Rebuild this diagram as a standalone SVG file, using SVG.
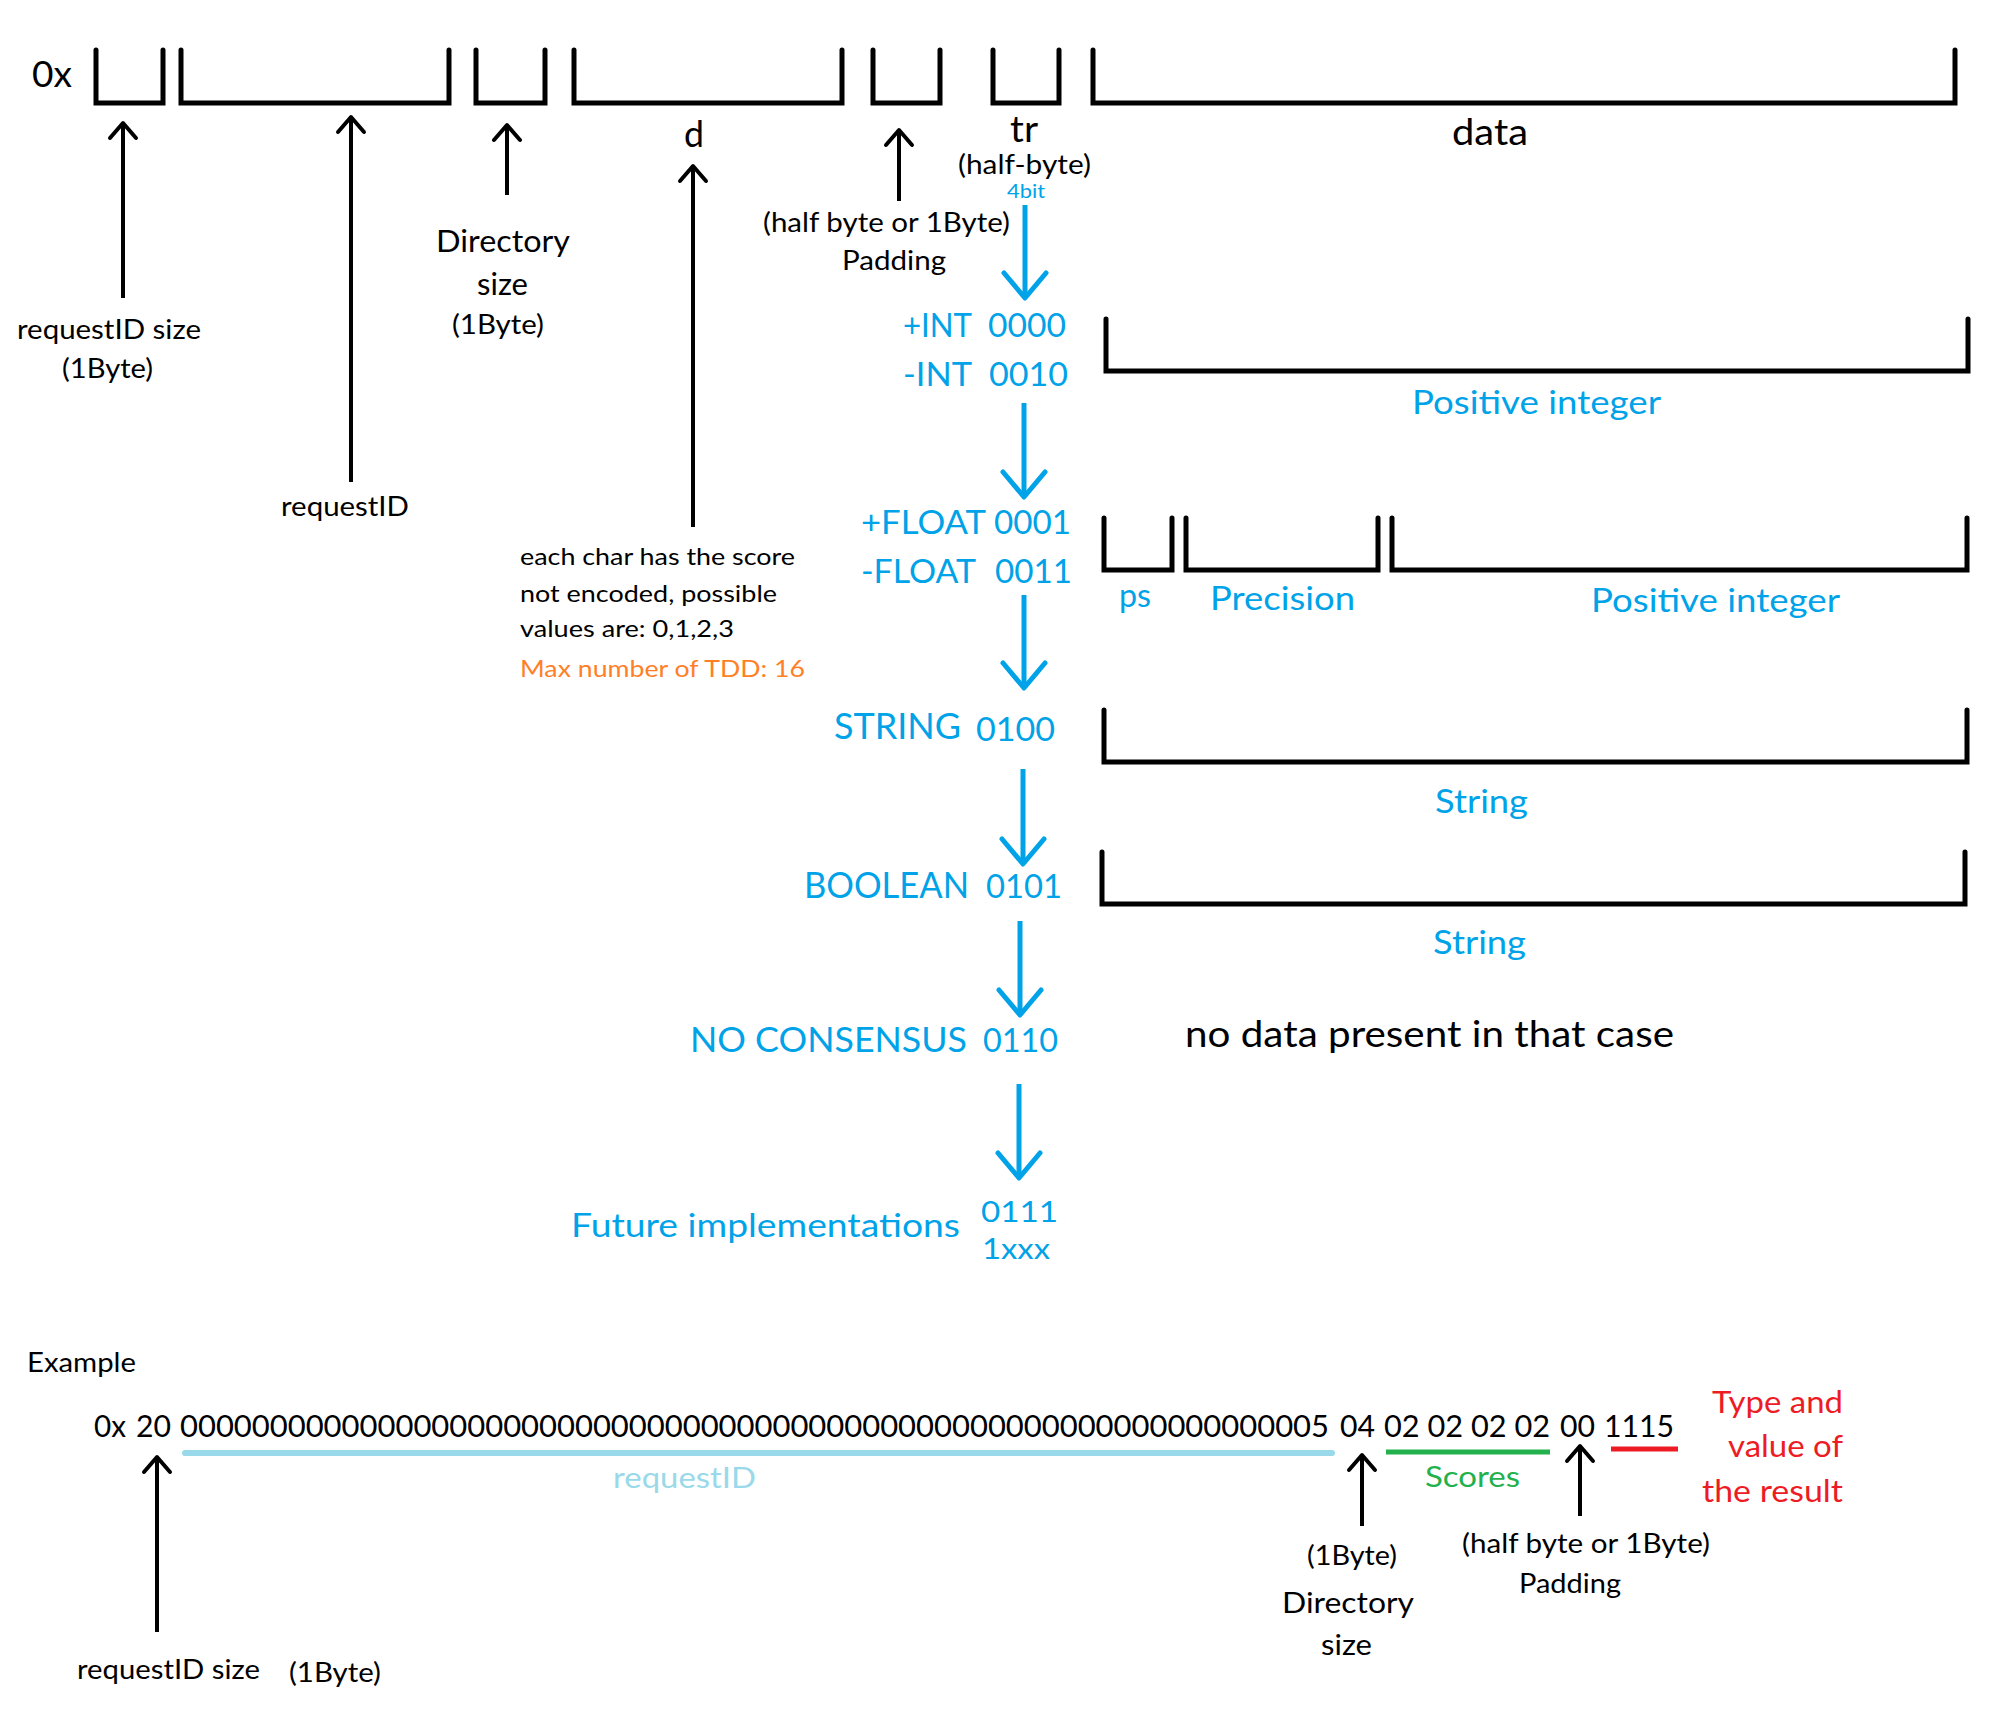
<svg xmlns="http://www.w3.org/2000/svg" width="1992" height="1730" viewBox="0 0 1992 1730">
<style>
text{font-family:Lato,"Liberation Sans",sans-serif;}
.k{fill:#000;}
.b{fill:#00A2E8;}
.o{fill:#FF7F27;}
.r{fill:#ED1C24;}
.g{fill:#22B14C;}
.lb{fill:#99D9EA;}
.br{fill:none;stroke:#000;stroke-width:5;stroke-linejoin:miter;stroke-linecap:round;}
.ka{stroke:#000;stroke-width:4;fill:none;marker-end:url(#hk);}
.ba{stroke:#00A2E8;stroke-width:5;fill:none;marker-end:url(#hb);}
</style>
<defs>
<marker id="hk" markerUnits="userSpaceOnUse" orient="auto" refX="0" refY="0" markerWidth="40" markerHeight="40" viewBox="-20 -20 40 40" overflow="visible">
<path d="M-15,-13 L0,0 L-15,13" fill="none" stroke="#000" stroke-width="4" stroke-linecap="round" stroke-linejoin="round"/>
</marker>
<marker id="hb" markerUnits="userSpaceOnUse" orient="auto" refX="0" refY="0" markerWidth="60" markerHeight="60" viewBox="-30 -30 60 60" overflow="visible">
<path d="M-25,-21 L0,0 L-25,21" fill="none" stroke="#00A2E8" stroke-width="5" stroke-linecap="round" stroke-linejoin="round"/>
</marker>
</defs>
<rect width="1992" height="1730" fill="#fff"/>

<g id="top-layout">
<g id="prefix"><text class="k" x="32" y="87" font-size="37" textLength="40" lengthAdjust="spacingAndGlyphs">0x</text></g>
<g id="field-reqid-size"><path class="br" d="M96,50 V103 H163 V50"/></g>
<g id="field-reqid"><path class="br" d="M181,50 V103 H449 V50"/></g>
<g id="field-dir-size"><path class="br" d="M476,50 V103 H545 V50"/></g>
<g id="field-d"><path class="br" d="M574,50 V103 H842 V50"/>
<text class="k" x="684" y="147" font-size="37" textLength="20" lengthAdjust="spacingAndGlyphs">d</text></g>
<g id="field-padding"><path class="br" d="M873,50 V103 H940 V50"/></g>
<g id="field-tr"><path class="br" d="M993,50 V103 H1059 V50"/>
<text class="k" x="1010" y="142" font-size="37" textLength="28" lengthAdjust="spacingAndGlyphs">tr</text>
<text class="k" x="958" y="174" font-size="27" textLength="133" lengthAdjust="spacingAndGlyphs">(half-byte)</text>
<text class="b" x="1007" y="198" font-size="19" textLength="38" lengthAdjust="spacingAndGlyphs">4bit</text></g>
<g id="field-data"><path class="br" d="M1093,50 V103 H1955 V50"/>
<text class="k" x="1452" y="145" font-size="37" textLength="76" lengthAdjust="spacingAndGlyphs">data</text></g>
</g>

<g id="labels-top">
<g id="lbl-reqid-size"><text class="k" x="17" y="339" font-size="26" textLength="184" lengthAdjust="spacingAndGlyphs">requestID size</text>
<text class="k" x="62" y="378" font-size="26" textLength="91" lengthAdjust="spacingAndGlyphs">(1Byte)</text></g>
<g id="lbl-reqid"><text class="k" x="281" y="516" font-size="27" textLength="128" lengthAdjust="spacingAndGlyphs">requestID</text></g>
<g id="lbl-dir-size"><text class="k" x="436" y="252" font-size="30" textLength="134" lengthAdjust="spacingAndGlyphs">Directory</text>
<text class="k" x="477" y="295" font-size="30" textLength="51" lengthAdjust="spacingAndGlyphs">size</text>
<text class="k" x="452" y="334" font-size="27" textLength="92" lengthAdjust="spacingAndGlyphs">(1Byte)</text></g>
<g id="lbl-d"><text class="k" x="520" y="565" font-size="24" textLength="275" lengthAdjust="spacingAndGlyphs">each char has the score</text>
<text class="k" x="520" y="602" font-size="24" textLength="257" lengthAdjust="spacingAndGlyphs">not encoded, possible</text>
<text class="k" x="520" y="637" font-size="24" textLength="214" lengthAdjust="spacingAndGlyphs">values are: 0,1,2,3</text>
<text class="o" x="520" y="677" font-size="24" textLength="285" lengthAdjust="spacingAndGlyphs">Max number of TDD: 16</text></g>
<g id="lbl-padding"><text class="k" x="763" y="232" font-size="27" textLength="247" lengthAdjust="spacingAndGlyphs">(half byte or 1Byte)</text>
<text class="k" x="842" y="270" font-size="27" textLength="104" lengthAdjust="spacingAndGlyphs">Padding</text></g>
</g>

<g id="types">
<g id="t-int"><text class="b" x="903" y="337" font-size="32" textLength="69" lengthAdjust="spacingAndGlyphs">+INT</text>
<text class="b" x="988" y="337" font-size="32" textLength="78" lengthAdjust="spacingAndGlyphs">0000</text>
<text class="b" x="903" y="386" font-size="32" textLength="69" lengthAdjust="spacingAndGlyphs">-INT</text>
<text class="b" x="989" y="386" font-size="32" textLength="79" lengthAdjust="spacingAndGlyphs">0010</text>
<path class="br" d="M1106,319 V371 H1968 V319"/>
<text class="b" x="1412" y="414" font-size="32" textLength="249" lengthAdjust="spacingAndGlyphs">Positive integer</text></g>
<g id="t-float"><text class="b" x="861" y="534" font-size="33" textLength="125" lengthAdjust="spacingAndGlyphs">+FLOAT</text>
<text class="b" x="994" y="534" font-size="33" textLength="77" lengthAdjust="spacingAndGlyphs">0001</text>
<text class="b" x="861" y="583" font-size="33" textLength="115" lengthAdjust="spacingAndGlyphs">-FLOAT</text>
<text class="b" x="995" y="583" font-size="33" textLength="77" lengthAdjust="spacingAndGlyphs">0011</text>
<path class="br" d="M1104,518 V570 H1172 V518"/>
<path class="br" d="M1186,518 V570 H1378 V518"/>
<path class="br" d="M1392,518 V570 H1967 V518"/>
<text class="b" x="1119" y="607" font-size="32" textLength="32" lengthAdjust="spacingAndGlyphs">ps</text>
<text class="b" x="1210" y="610" font-size="32" textLength="145" lengthAdjust="spacingAndGlyphs">Precision</text>
<text class="b" x="1591" y="612" font-size="32" textLength="249" lengthAdjust="spacingAndGlyphs">Positive integer</text></g>
<g id="t-string"><text class="b" x="834" y="739" font-size="37" textLength="127" lengthAdjust="spacingAndGlyphs">STRING</text>
<text class="b" x="976" y="741" font-size="33" textLength="79" lengthAdjust="spacingAndGlyphs">0100</text>
<path class="br" d="M1104,710 V762 H1967 V710"/>
<text class="b" x="1435" y="813" font-size="32" textLength="93" lengthAdjust="spacingAndGlyphs">String</text></g>
<g id="t-boolean"><text class="b" x="804" y="898" font-size="36" textLength="165" lengthAdjust="spacingAndGlyphs">BOOLEAN</text>
<text class="b" x="986" y="898" font-size="33" textLength="76" lengthAdjust="spacingAndGlyphs">0101</text>
<path class="br" d="M1102,852 V904 H1965 V852"/>
<text class="b" x="1433" y="954" font-size="32" textLength="93" lengthAdjust="spacingAndGlyphs">String</text></g>
<g id="t-noconsensus"><text class="b" x="690" y="1052" font-size="35" textLength="277" lengthAdjust="spacingAndGlyphs">NO CONSENSUS</text>
<text class="b" x="983" y="1052" font-size="33" textLength="75" lengthAdjust="spacingAndGlyphs">0110</text>
<text class="k" x="1185" y="1047" font-size="36" textLength="489" lengthAdjust="spacingAndGlyphs">no data present in that case</text></g>
<g id="t-future"><text class="b" x="571" y="1237" font-size="32" textLength="389" lengthAdjust="spacingAndGlyphs">Future implementations</text>
<text class="b" x="981" y="1222" font-size="29" textLength="77" lengthAdjust="spacingAndGlyphs">0111</text>
<text class="b" x="982" y="1259" font-size="29" textLength="68" lengthAdjust="spacingAndGlyphs">1xxx</text></g>
</g>

<g id="example">
<text class="k" x="27" y="1372" font-size="26" textLength="109" lengthAdjust="spacingAndGlyphs">Example</text>
<g id="ex-line" font-size="30">
<text class="k" x="94" y="1437" textLength="32" lengthAdjust="spacingAndGlyphs">0x</text>
<text class="k" x="136" y="1437" textLength="35" lengthAdjust="spacingAndGlyphs">20</text>
<text class="k" x="180" y="1437" textLength="1149" lengthAdjust="spacingAndGlyphs">0000000000000000000000000000000000000000000000000000000000000005</text>
<text class="k" x="1340" y="1437" textLength="35" lengthAdjust="spacingAndGlyphs">04</text>
<text class="k" x="1384" y="1437" textLength="166" lengthAdjust="spacingAndGlyphs">02 02 02 02</text>
<text class="k" x="1560" y="1437" textLength="35" lengthAdjust="spacingAndGlyphs">00</text>
<text class="k" x="1604" y="1437" textLength="70" lengthAdjust="spacingAndGlyphs">1115</text>
</g>
<line x1="185" y1="1453" x2="1332" y2="1453" stroke="#99D9EA" stroke-width="6" stroke-linecap="round"/>
<text class="lb" x="613" y="1488" font-size="28" textLength="143" lengthAdjust="spacingAndGlyphs">requestID</text>
<line x1="1386" y1="1452" x2="1550" y2="1452" stroke="#22B14C" stroke-width="5"/>
<text class="g" x="1425" y="1487" font-size="29" textLength="95" lengthAdjust="spacingAndGlyphs">Scores</text>
<line x1="1611" y1="1449" x2="1678" y2="1449" stroke="#ED1C24" stroke-width="5"/>
<text class="r" x="1712" y="1413" font-size="31" textLength="131" lengthAdjust="spacingAndGlyphs">Type and</text>
<text class="r" x="1728" y="1457" font-size="31" textLength="115" lengthAdjust="spacingAndGlyphs">value of</text>
<text class="r" x="1702" y="1502" font-size="31" textLength="141" lengthAdjust="spacingAndGlyphs">the result</text>
<g id="ex-dir"><text class="k" x="1307" y="1565" font-size="27" textLength="90" lengthAdjust="spacingAndGlyphs">(1Byte)</text>
<text class="k" x="1282" y="1613" font-size="29" textLength="132" lengthAdjust="spacingAndGlyphs">Directory</text>
<text class="k" x="1321" y="1655" font-size="29" textLength="51" lengthAdjust="spacingAndGlyphs">size</text></g>
<g id="ex-pad"><text class="k" x="1462" y="1553" font-size="27" textLength="248" lengthAdjust="spacingAndGlyphs">(half byte or 1Byte)</text>
<text class="k" x="1519" y="1593" font-size="27" textLength="102" lengthAdjust="spacingAndGlyphs">Padding</text></g>
<g id="ex-size"><text class="k" x="77" y="1679" font-size="26" textLength="183" lengthAdjust="spacingAndGlyphs">requestID size</text>
<text class="k" x="289" y="1682" font-size="26" textLength="92" lengthAdjust="spacingAndGlyphs">(1Byte)</text></g>
</g>

<g id="connectors">
<line class="ka" x1="123" y1="298" x2="123" y2="123"/>
<line class="ka" x1="351" y1="482" x2="351" y2="117"/>
<line class="ka" x1="507" y1="195" x2="507" y2="125"/>
<line class="ka" x1="693" y1="527" x2="693" y2="166"/>
<line class="ka" x1="899" y1="201" x2="899" y2="130"/>
<line class="ka" x1="157" y1="1632" x2="157" y2="1457"/>
<line class="ka" x1="1362" y1="1526" x2="1362" y2="1455"/>
<line class="ka" x1="1580" y1="1516" x2="1580" y2="1446"/>
<line class="ba" x1="1025" y1="205" x2="1025" y2="298"/>
<line class="ba" x1="1024" y1="403" x2="1024" y2="497"/>
<line class="ba" x1="1024" y1="595" x2="1024" y2="688"/>
<line class="ba" x1="1023" y1="769" x2="1023" y2="864"/>
<line class="ba" x1="1020" y1="921" x2="1020" y2="1015"/>
<line class="ba" x1="1019" y1="1084" x2="1019" y2="1178"/>
</g>
</svg>
